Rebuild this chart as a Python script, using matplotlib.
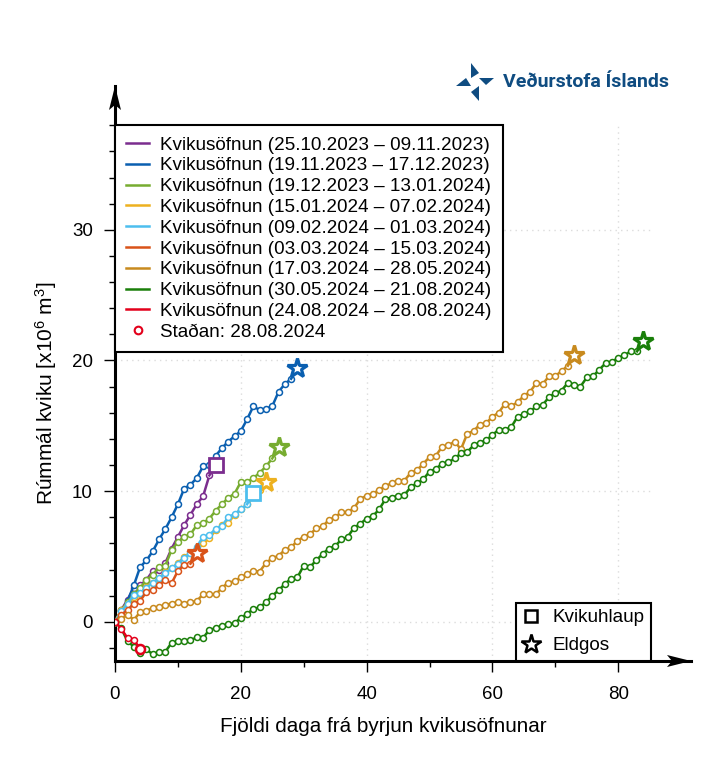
import numpy as np
import matplotlib
matplotlib.use('Agg')
import matplotlib.pyplot as plt
from matplotlib.lines import Line2D
from matplotlib.patches import Polygon

plt.rcParams['font.family'] = ['Liberation Sans', 'DejaVu Sans']
plt.rcParams['mathtext.default'] = 'regular'

# Daily values, the last one of each series sits under the end marker
purple = [0, 0.9, 1.7, 2.6, 2.8, 3.2, 3.9, 4.0, 4.5, 5.6, 6.5, 7.4, 8.2, 9.0, 9.6, 11.2, 12.0]
blue = [0, 0.8, 1.6, 2.8, 4.2, 4.7, 5.4, 6.3, 7.1, 8.0, 9.0, 10.2, 10.5, 11.0, 11.9, 12.0, 12.7,
        13.3, 13.8, 14.2, 14.6, 15.5, 16.5, 16.2, 16.3, 16.5, 17.6, 18.2, 18.6, 19.4]
green = [0, 0.9, 1.5, 2.1, 2.6, 3.2, 3.6, 4.2, 4.3, 5.5, 6.1, 6.5, 6.7, 7.4, 7.55, 7.9, 8.5,
         9.0, 9.5, 9.8, 10.7, 10.7, 11.0, 11.4, 11.9, 12.5, 13.4]
yellow = [0, 0.9, 1.4, 1.9, 2.1, 2.7, 3.0, 3.3, 3.85, 4.1, 4.5, 4.95, 5.25, 5.5, 6.0, 6.4, 7.0,
          7.4, 7.55, 8.2, 8.6, 9.0, 9.6, 10.1, 10.7]
lightblue = [0, 0.8, 1.4, 2.05, 2.2, 2.6, 3.0, 3.35, 3.7, 4.1, 4.45, 4.9, 5.25, 5.75, 6.5, 6.65,
             7.1, 7.35, 8.0, 8.25, 8.6, 9.0, 9.85]
redorange = [0, 0.55, 0.9, 1.4, 1.6, 2.3, 2.45, 2.8, 3.2, 2.95, 3.9, 4.35, 4.45, 5.3]
orange = [0, 0.2, 0.55, 0.15, 0.75, 0.85, 1.05, 1.1, 1.3, 1.4, 1.5, 1.4, 1.5, 1.6, 2.1, 2.1, 2.1,
          2.6, 3.0, 3.1, 3.4, 3.65, 3.9, 3.85, 4.5, 4.87, 5.05, 5.5, 5.7, 6.2, 6.5, 6.7, 7.15,
          7.3, 7.8, 8.0, 8.4, 8.4, 8.7, 9.4, 9.65, 9.8, 10.1, 10.4, 10.6, 10.8, 10.8, 11.4, 11.6,
          12.1, 12.6, 12.7, 13.4, 13.5, 13.8, 13.2, 14.4, 14.6, 15.1, 15.2, 15.7, 16.0, 16.7,
          16.5, 16.8, 17.3, 17.6, 18.3, 18.2, 18.8, 18.8, 19.2, 19.6, 20.4]
darkgreen = [0, -0.5, -1.5, -1.9, -2.4, -2.1, -2.5, -2.3, -2.3, -1.6, -1.5, -1.5, -1.4, -1.2,
             -1.25, -0.6, -0.5, -0.3, -0.2, -0.1, 0.3, 0.6, 1.0, 1.1, 1.5, 2.0, 2.4, 2.9, 3.3,
             3.4, 4.3, 4.2, 4.7, 5.2, 5.6, 5.8, 6.3, 6.5, 7.2, 7.5, 7.9, 8.1, 8.6, 9.4, 9.5,
             9.65, 9.7, 10.3, 10.6, 10.9, 11.5, 11.7, 12.1, 12.2, 12.5, 12.9, 13.0, 13.5, 13.7,
             13.9, 14.3, 14.7, 14.7, 14.9, 15.7, 15.9, 16.1, 16.5, 16.6, 17.2, 17.5, 17.7, 18.3,
             18.1, 18.0, 18.7, 18.8, 19.3, 19.8, 19.9, 20.2, 20.4, 20.7, 20.7, 21.5]
red = [0, -0.55, -1.25, -1.4, -2.05]

series = [purple, blue, green, yellow, lightblue, redorange, orange, darkgreen, red]
colors = ['#7b2d8e', '#0a5fb0', '#77ac30', '#edb120', '#4dbeee', '#d95319', '#c88a1e', '#1a7f0a', '#e3001b']
end_markers = ['s', '*', '*', '*', 's', '*', '*', '*', None]
periods = ['25.10.2023 – 09.11.2023', '19.11.2023 – 17.12.2023', '19.12.2023 – 13.01.2024',
           '15.01.2024 – 07.02.2024', '09.02.2024 – 01.03.2024', '03.03.2024 – 15.03.2024',
           '17.03.2024 – 28.05.2024', '30.05.2024 – 21.08.2024', '24.08.2024 – 28.08.2024']
x_major = [0, 20, 40, 60, 80]
y_major = [0, 10, 20, 30]

W, H = 720, 775
fig = plt.figure(figsize=(W / 100, H / 100), dpi=100)
# axes box: x=0 at px 115, y=-3 at px 661
ax = fig.add_axes([115 / W, 1 - 661 / H, (691 - 115) / W, (661 - 86) / H])
ax.set_xlim(0, (691 - 115) / 6.29)
ax.set_ylim(-3, (622 - 86) / 13.07)

ax.hlines(y_major, 0, 85, color='#dcdcdc', lw=1, linestyle=(0, (1, 3)), zorder=1)
ax.vlines(x_major, -3, 38, color='#dcdcdc', lw=1, linestyle=(0, (1, 3)), zorder=1)

for vals, col, mk in zip(series, colors, end_markers):
    days = np.arange(len(vals))
    ax.plot(days[:-1] if mk else days, vals[:-1] if mk else vals, '-o', color=col, lw=1.8, ms=4.3,
            mfc='white', mew=1.1, zorder=3)
    if mk:
        ax.plot(days[-2:], vals[-2:], '-', color=col, lw=1.8, zorder=3)
        if mk == 's':
            ax.plot(days[-1], vals[-1], 's', color=col, ms=9.5, mfc='white', mew=2, zorder=4)
        else:
            ax.plot(days[-1], vals[-1], '*', color=col, ms=15, mfc='white', mew=2.3, zorder=4)
ax.plot(len(red) - 1, red[-1], 'o', color=colors[-1], ms=6.5, mfc='white', mew=1.8, zorder=5)

for s in ['top', 'right']:
    ax.spines[s].set_visible(False)
for s in ['left', 'bottom']:
    ax.spines[s].set_linewidth(2.2)
ax.patch.set_alpha(0)

ax.set_xticks(x_major)
ax.set_xticks([10, 30, 50, 70], minor=True)
ax.set_yticks(y_major)
ax.set_yticks([v for v in range(-2, 39, 2) if v % 10 != 0], minor=True)
ax.tick_params(axis='both', which='major', labelsize=13.5, length=8, width=1)
ax.tick_params(axis='both', which='minor', length=4, width=1)
ax.tick_params(axis='y', which='major', pad=8)
ax.tick_params(axis='x', which='major', pad=10)

fig.text(383 / W, 1 - 727 / H, 'Fjöldi daga frá byrjun kvikusöfnunar', fontsize=14.9, ha='center', va='center')
fig.text(46 / W, 1 - 393 / H, 'Rúmmál kviku [x10$^6$ m$^3$]', fontsize=15, rotation=90, ha='center', va='center')

handles = [Line2D([], [], color=c, lw=1.8) for c in colors]
handles.append(Line2D([], [], color=colors[-1], marker='o', ls='', ms=5.5, mfc='white', mew=1.5))
labels = ['Kvikusöfnun (%s)' % p for p in periods] + ['Staðan: 28.08.2024']
leg = ax.legend(handles, labels, loc='upper left', bbox_to_anchor=(115 / W, 1 - 125 / H),
                bbox_transform=fig.transFigure, fontsize=13.6, frameon=True, fancybox=False,
                edgecolor='black', framealpha=1, borderaxespad=0, borderpad=0.6, labelspacing=0.19,
                handlelength=1.22, handletextpad=0.56)
leg.get_frame().set_linewidth(1.5)
leg.set_zorder(6)
ax.add_artist(leg)

handles2 = [Line2D([], [], color='black', marker='s', ls='', ms=9, mfc='white', mew=1.8),
            Line2D([], [], color='black', marker='*', ls='', ms=15, mfc='white', mew=1.8)]
leg2 = ax.legend(handles2, ['Kvikuhlaup', 'Eldgos'], loc='lower left', bbox_to_anchor=(516 / W, 1 - 661 / H),
                 bbox_transform=fig.transFigure, fontsize=13.6, frameon=True, fancybox=False,
                 edgecolor='black', framealpha=1, borderaxespad=0, borderpad=0.35, labelspacing=0.57,
                 handlelength=0.9, handletextpad=0.7)
leg2.get_frame().set_linewidth(1.5)
leg2.set_zorder(6)

# overlay in pixels for the arrow heads and the logo
ov = fig.add_axes([0, 0, 1, 1], zorder=10)
ov.set_xlim(0, W)
ov.set_ylim(H, 0)
ov.axis('off')
ov.add_patch(Polygon([(115, 86), (121, 110), (115, 105), (109, 110)], fc='black', ec='none'))
ov.add_patch(Polygon([(691, 661), (667, 667), (672, 661), (667, 655)], fc='black', ec='none'))

logo_blue = '#0f4c81'
for tri in [[(471, 63), (479, 73), (471, 78)], [(479, 78), (494, 78), (486, 85)],
            [(456, 86), (471, 86), (466, 78)], [(479, 86), (479, 101), (471, 92)]]:
    ov.add_patch(Polygon(tri, fc=logo_blue, ec='none'))
fig.text(503 / W, 1 - 82 / H, 'Veðurstofa Íslands', fontsize=14, family='Roboto', weight='bold',
         color=logo_blue, ha='left', va='center')

fig.savefig('out.png', dpi=100)
